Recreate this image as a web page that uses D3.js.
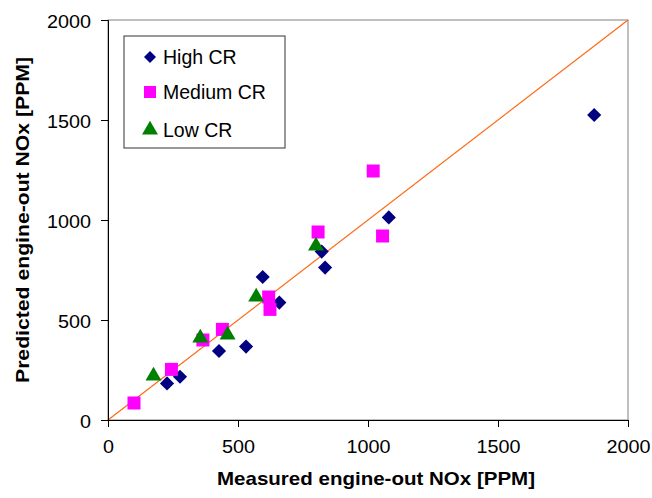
<!DOCTYPE html>
<html>
<head>
<meta charset="utf-8">
<script src="https://cdn.jsdelivr.net/npm/d3@7"></script>
<style>
  body { margin: 0; background: #fff; }
  text { font-family: "Liberation Sans", Arial, sans-serif; }
</style>
</head>
<body>
<div class="container"></div>
<script>
// measured vs predicted NOx, three compression-ratio groups
const highCR = [
  [227, 183], [277, 216], [427, 345], [531, 367], [595, 715],
  [659, 587], [822, 842], [835, 762], [1080, 1013], [1870, 1525]
];
const mediumCR = [
  [100, 85], [244, 253], [365, 400], [440, 453], [618, 615],
  [623, 553], [808, 940], [1020, 1245], [1056, 920]
];
const lowCR = [
  [175, 220], [355, 410], [460, 425], [570, 615], [800, 870]
];
const ticks = [0, 500, 1000, 1500, 2000];
const seriesNames = ["High CR", "Medium CR", "Low CR"];

const width = 652, height = 498;
const margin = { top: 20, right: 24, bottom: 78, left: 108 };
const plotW = width - margin.left - margin.right;
const plotH = height - margin.top - margin.bottom;

const svg = d3.select(".container")
  .append("svg")
  .attr("width", width)
  .attr("height", height);

const g = svg.append("g")
  .attr("transform", `translate(${margin.left},${margin.top})`);

const x = d3.scaleLinear().domain([0, 2000]).range([0, plotW]);
const y = d3.scaleLinear().domain([0, 2000]).range([plotH, 0]);

// frame (top/right grey)
g.append("rect")
  .attr("width", plotW)
  .attr("height", plotH)
  .attr("fill", "none")
  .attr("stroke", "#808080")
  .attr("stroke-width", 1);

// y = x line
g.append("line")
  .attr("x1", x(0)).attr("y1", y(0))
  .attr("x2", x(2000)).attr("y2", y(2000))
  .attr("stroke", "#FF6A13")
  .attr("stroke-width", 1.2);

const xAxis = g.append("g")
  .attr("transform", `translate(0,${plotH})`)
  .call(d3.axisBottom(x).tickValues(ticks).tickSize(7).tickPadding(13).tickFormat(d3.format("d")));
const yAxis = g.append("g")
  .call(d3.axisLeft(y).tickValues(ticks).tickSize(7).tickPadding(10).tickFormat(d3.format("d")));

[xAxis, yAxis].forEach(a => {
  a.select(".domain").attr("stroke", "#000");
  a.selectAll(".tick line").attr("stroke", "#000");
  a.selectAll(".tick text")
    .attr("fill", "#000")
    .style("font-size", "18.5px")
    .attr("textLength", d => String(d).length * 11)
    .attr("lengthAdjust", "spacingAndGlyphs");
});
yAxis.selectAll(".tick text").attr("dy", "0.4em");

const diamond = d3.symbol().type(d3.symbolSquare).size(100);
const square = d3.symbol().type(d3.symbolSquare).size(169);
const triangle = d3.symbol().type(d3.symbolTriangle).size(110);

// draw order: high, medium, low (low on top)
g.append("g").selectAll("path")
  .data(highCR)
  .join("path")
  .attr("d", diamond)
  .attr("transform", d => `translate(${x(d[0])},${y(d[1])}) rotate(45)`)
  .attr("fill", "#000080");

g.append("g").selectAll("path")
  .data(mediumCR)
  .join("path")
  .attr("d", square)
  .attr("transform", d => `translate(${x(d[0])},${y(d[1])})`)
  .attr("fill", "#FF00FF");

g.append("g").selectAll("path")
  .data(lowCR)
  .join("path")
  .attr("d", triangle)
  .attr("transform", d => `translate(${x(d[0])},${y(d[1])})`)
  .attr("fill", "#008000");

// legend
const legend = svg.append("g").attr("transform", "translate(124,36)");
legend.append("rect")
  .attr("width", 161)
  .attr("height", 112)
  .attr("fill", "#fff")
  .attr("stroke", "#333")
  .attr("stroke-width", 1);

const legendShapes = [
  { d: d3.symbol().type(d3.symbolSquare).size(72)(), rot: 45, fill: "#000080" },
  { d: d3.symbol().type(d3.symbolSquare).size(144)(), rot: 0, fill: "#FF00FF" },
  { d: d3.symbol().type(d3.symbolTriangle).size(110)(), rot: 0, fill: "#008000" }
];
const legendY = [21, 56, 94];

seriesNames.forEach((name, i) => {
  legend.append("path")
    .attr("d", legendShapes[i].d)
    .attr("transform", `translate(26,${legendY[i]}) rotate(${legendShapes[i].rot})`)
    .attr("fill", legendShapes[i].fill);
  legend.append("text")
    .attr("x", 39)
    .attr("y", legendY[i] + 7)
    .style("font-size", "19.5px")
    .attr("fill", "#000")
    .text(name);
});

// axis titles
svg.append("text")
  .attr("x", margin.left + plotW / 2 + 8)
  .attr("y", 485)
  .attr("text-anchor", "middle")
  .style("font-size", "18.5px")
  .style("font-weight", "bold")
  .attr("textLength", 318)
  .attr("lengthAdjust", "spacingAndGlyphs")
  .text("Measured engine-out NOx [PPM]");

svg.append("text")
  .attr("transform", `translate(29,${margin.top + plotH / 2}) rotate(-90)`)
  .attr("text-anchor", "middle")
  .style("font-size", "18.5px")
  .style("font-weight", "bold")
  .attr("textLength", 326)
  .attr("lengthAdjust", "spacingAndGlyphs")
  .text("Predicted engine-out NOx [PPM]");
</script>
</body>
</html>
